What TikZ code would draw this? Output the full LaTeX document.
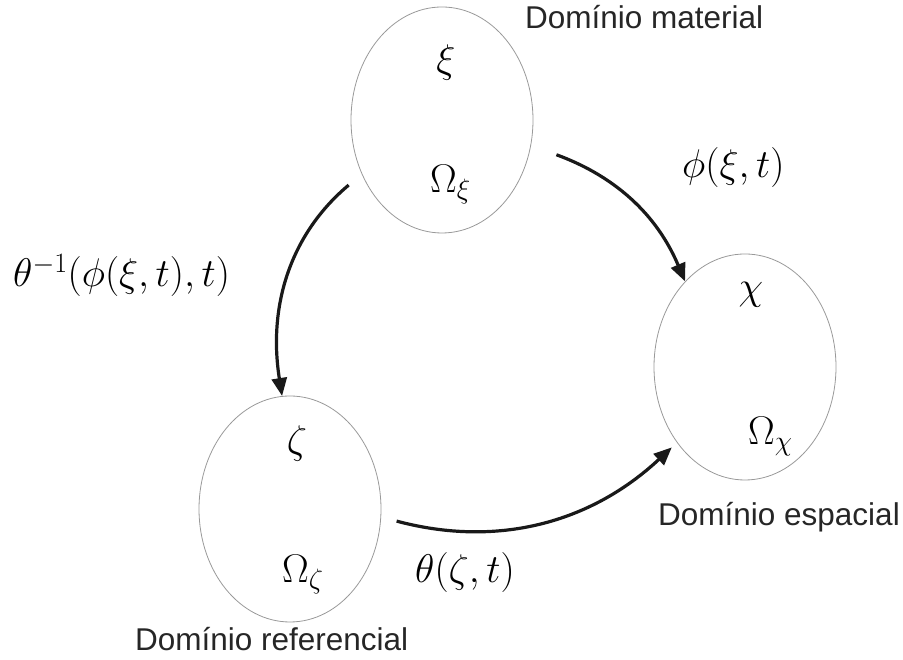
\RequirePackage{fix-cm}
\documentclass[tikz,border=0pt]{standalone}
\usepackage{fontspec}
\setsansfont{Liberation Sans}
\usetikzlibrary{positioning,arrows.meta,calc,shapes.geometric}

\begin{document}
\begin{tikzpicture}[
    x=1pt,y=1pt,
    >={Triangle[length=18pt,width=15pt]},
    region/.style={
        draw=gray!80,
        ellipse,
        line width=0.8pt,
        minimum width=182pt,
        minimum height=226pt,
        inner sep=0pt
    },
    sym/.style={
        inner sep=0pt,
        font=\fontsize{40}{48}\selectfont
    },
    domname/.style={
        inner sep=0pt,
        anchor=base west,
        text=black!85,
        font=\sffamily\fontsize{31.5}{38}\selectfont
    },
    arrow/.style={->,line width=3.2pt,black!90}
]

\useasboundingbox (0,0) rectangle (903,660);

%------------------------------------------------
% Domains
%------------------------------------------------

\node[region] (mat) at (442,540) {};
\node[region] (esp) at (745,293) {};
\node[region] (ref) at (290,151) {};

\node[sym] (xi) at ($(mat.center)+(4,57)$) {$\xi$};
\node[sym,anchor=base west] (omxi) at ($(mat.center)+(-12,-73)$) {$\Omega_\xi$};

\node[sym] (chi) at ($(esp.center)+(6,72)$) {$\chi$};
\node[sym,anchor=base west] (omchi) at ($(esp.center)+(3,-78)$) {$\Omega_\chi$};

\node[sym] (zeta) at ($(ref.center)+(7,65)$) {$\zeta$};
\node[sym,anchor=base west] (omzeta) at ($(ref.center)+(-8,-74)$) {$\Omega_\zeta$};

\node[domname] (matname) at (525,631) {Domínio material};
\node[domname] (espname) at (658,134) {Domínio espacial};
\node[domname] (refname) at (135,9) {Domínio referencial};

%------------------------------------------------
% Mappings
%------------------------------------------------

\draw[arrow,shorten <=27pt] (mat.-16.5) to[out=-20,in=113] (esp.125);
\draw[arrow,shorten <=17pt] (mat.214.7) to[out=220,in=99] (ref.94);
\draw[arrow,shorten <=16pt,shorten >=7pt] (ref.-5.3) to[out=-15,in=223] (esp.228.4);

\node[sym,anchor=base west] (phi) at (682,482) {$\phi(\xi,t)$};
\node[sym,anchor=base west] (thinv) at (13,373) {$\theta^{-1}(\phi(\xi,t),t)$};
\node[sym,anchor=base west] (theta) at (415,77) {$\theta(\zeta,t)$};

\end{tikzpicture}
\end{document}
